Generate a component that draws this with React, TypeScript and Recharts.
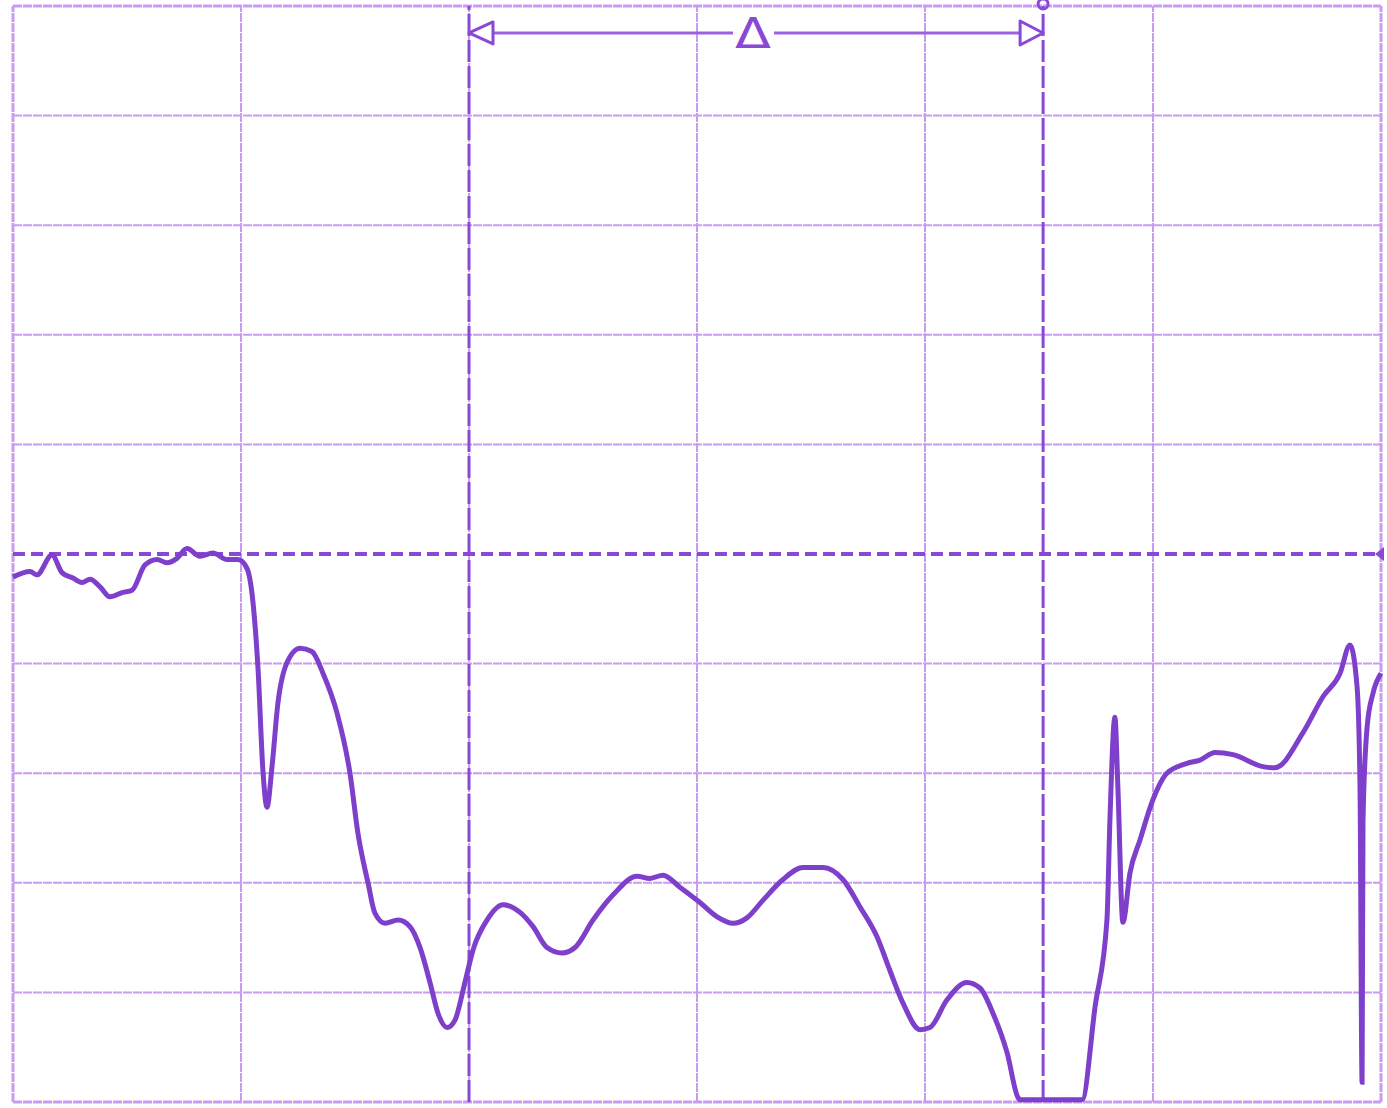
import { Line, LineChart, ReferenceDot, ReferenceLine, XAxis, YAxis } from "recharts";

// frequency in screen divisions (0..6), level in dB (10 dB/div, top = 0 dB)
const freq = [
  0.0, 0.075, 0.105, 0.171, 0.215, 0.263, 0.303, 0.338, 0.382, 0.425, 0.482, 0.522, 0.579, 0.632,
  0.675, 0.719, 0.763, 0.82, 0.877, 0.939, 0.987, 1.026, 1.053, 1.075, 1.096, 1.114, 1.136, 1.162,
  1.202, 1.259, 1.311, 1.36, 1.421, 1.478, 1.513, 1.557, 1.588, 1.632, 1.689, 1.741, 1.785, 1.829,
  1.864, 1.904, 1.939, 1.982, 2.018, 2.079, 2.149, 2.224, 2.281, 2.342, 2.408, 2.465, 2.544, 2.632,
  2.737, 2.794, 2.851, 2.925, 3.013, 3.088, 3.158, 3.219, 3.289, 3.377, 3.465, 3.553, 3.64, 3.715,
  3.789, 3.846, 3.904, 3.978, 4.022, 4.096, 4.184, 4.241, 4.298, 4.36, 4.408, 4.417, 4.689, 4.746,
  4.798, 4.811, 4.833, 4.846, 4.868, 4.899, 4.943, 5.0, 5.061, 5.149, 5.206, 5.272, 5.351, 5.482,
  5.535, 5.658, 5.746, 5.82, 5.864, 5.895, 5.908, 5.917, 5.921, 5.939, 5.965, 6.0,
];
const level = [
  -52.1, -51.6, -51.9, -50.1, -51.7, -52.2, -52.6, -52.3, -53.0, -53.9, -53.5, -53.3, -51.0, -50.5,
  -50.8, -50.4, -49.5, -50.2, -49.9, -50.5, -50.5, -51.3, -54.5, -60.6, -69.7, -73.1, -69.4, -63.6,
  -59.9, -58.6, -58.9, -60.9, -64.5, -70.0, -75.5, -80.0, -82.8, -83.7, -83.4, -84.0, -85.9, -89.1,
  -91.9, -93.2, -92.5, -89.1, -86.1, -83.4, -82.0, -82.7, -84.0, -85.9, -86.4, -85.9, -83.4, -81.1,
  -79.4, -79.6, -79.3, -80.4, -81.8, -83.1, -83.7, -83.2, -81.6, -79.7, -78.6, -78.6, -79.7, -82.2,
  -84.9, -88.0, -91.0, -93.4, -93.2, -90.7, -89.1, -89.6, -91.9, -95.5, -99.6, -99.8, -99.8, -91.3,
  -83.4, -74.3, -64.9, -71.3, -83.6, -79.1, -76.1, -72.4, -70.0, -69.1, -68.8, -68.1, -68.3, -69.4,
  -69.5, -66.3, -63.0, -60.9, -58.3, -62.1, -71.3, -98.2, -74.3, -65.8, -62.7, -60.9,
];

const xGrid = [0, 1, 2, 3, 4, 5, 6];
const yGrid = [0, -10, -20, -30, -40, -60, -70, -80, -90, -100];
const refLevel = -50;
const markers = [2.0, 4.518];
const deltaY = -2.46;
const deltaGap = [3.158, 3.338];
const deltaLabelX = 3.246;

const data = freq.map((f, i) => ({ f, dB: level[i] }));

const gridColor = "#c99bf2";
const markerColor = "#8a48d6";
const traceColor = "#7e3fcb";

export default function App() {
  return (
    <div style={{ position: "absolute", left: 0, top: 0, width: 1387, height: 1108, background: "#fff" }}>
      <LineChart width={1387} height={1108} data={data} margin={{ top: 6, right: 6, bottom: 6, left: 13 }}>
        <XAxis type="number" dataKey="f" domain={[0, 6]} hide />
        <YAxis type="number" domain={[-100, 0]} hide />

        {xGrid.map((x) => (
          <ReferenceLine
            key={"vx" + x}
            x={x}
            stroke={gridColor}
            strokeWidth={x === 0 || x === 6 ? 3 : 2}
            strokeDasharray="9 1"
          />
        ))}
        {yGrid.map((y) => (
          <ReferenceLine
            key={"hy" + y}
            y={y}
            stroke={gridColor}
            strokeWidth={y === 0 || y === -100 ? 3 : 2}
            strokeDasharray="9 1"
          />
        ))}

        {/* reference level */}
        <ReferenceLine y={refLevel} stroke={markerColor} strokeWidth={4} strokeDasharray="12 6" />

        {/* markers */}
        {markers.map((m) => (
          <ReferenceLine key={"m" + m} x={m} stroke={markerColor} strokeWidth={3} strokeDasharray="22 4" />
        ))}

        <Line
          type="monotone"
          dataKey="dB"
          stroke={traceColor}
          strokeWidth={5}
          dot={false}
          isAnimationActive={false}
        />

        {/* delta annotation */}
        <ReferenceLine
          segment={[{ x: markers[0], y: deltaY }, { x: deltaGap[0], y: deltaY }]}
          stroke="#9a62e0"
          strokeWidth={3}
        />
        <ReferenceLine
          segment={[{ x: deltaGap[1], y: deltaY }, { x: markers[1], y: deltaY }]}
          stroke="#9a62e0"
          strokeWidth={3}
        />
        <ReferenceDot
          x={markers[0]}
          y={deltaY}
          shape={(p: any) => (
            <polygon
              points={`${p.cx},${p.cy} ${p.cx + 24},${p.cy - 11} ${p.cx + 24},${p.cy + 11}`}
              fill="#fff"
              stroke={markerColor}
              strokeWidth={3}
              strokeLinejoin="round"
            />
          )}
        />
        <ReferenceDot
          x={markers[1]}
          y={deltaY}
          shape={(p: any) => (
            <polygon
              points={`${p.cx},${p.cy} ${p.cx - 23},${p.cy - 12} ${p.cx - 23},${p.cy + 12}`}
              fill="#fff"
              stroke={markerColor}
              strokeWidth={3}
              strokeLinejoin="round"
            />
          )}
        />
        <ReferenceDot
          x={deltaLabelX}
          y={deltaY}
          shape={(p: any) => (
            <text
              x={p.cx - 18}
              y={p.cy + 15}
              textLength={36}
              lengthAdjust="spacingAndGlyphs"
              fontFamily="DejaVu Sans"
              fontSize={42}
              fill={markerColor}
            >
              Δ
            </text>
          )}
        />
        <ReferenceDot
          x={markers[1]}
          y={0}
          ifOverflow="visible"
          shape={(p: any) => (
            <circle cx={p.cx} cy={p.cy - 2} r={5} fill="none" stroke={markerColor} strokeWidth={3} />
          )}
        />
        <ReferenceDot
          x={6}
          y={refLevel}
          ifOverflow="visible"
          shape={(p: any) => (
            <polygon
              points={`${p.cx - 6},${p.cy} ${p.cx + 3},${p.cy - 7} ${p.cx + 3},${p.cy + 7}`}
              fill={markerColor}
            />
          )}
        />
      </LineChart>
    </div>
  );
}
